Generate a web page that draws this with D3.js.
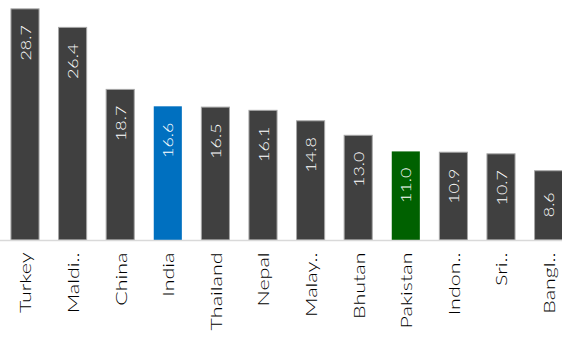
<!DOCTYPE html>
<html>
<head>
	<meta http-equiv="Content-Type" content="text/html; charset=utf-8">
	<title>Bars</title>
	<script src="https://d3js.org/d3.v7.min.js"></script>
	<style>
		body { margin: 0; background: #fff; }
		text { font-family: 'Century Gothic', 'Lato', 'Open Sans', sans-serif; font-weight: 300; }
		.val { fill: #fff; font-size: 14px; }
		.cat { fill: #000; font-size: 16.5px; }
	</style>
</head>
<body>
<script>
	// chart data
	var countries = ["Turkey", "Maldi..", "China", "India", "Thailand", "Nepal",
		"Malay..", "Bhutan", "Pakistan", "Indon..", "Sri..", "Bangl.."];
	var values = [28.7, 26.4, 18.7, 16.6, 16.5, 16.1, 14.8, 13.0, 11.0, 10.9, 10.7, 8.6];
	var highlight = { "India": "#0070c0", "Pakistan": "#006100" };

	var width = 562, height = 342, baseY = 240;
	// the original face is much wider than the fallback, so stretch along the text
	var catStretch = 1.3, valStretch = 1.28;

	var svg = d3.select("body").append("svg")
			.attr("width", width)
			.attr("height", height);

	var x = d3.scaleBand()
			.domain(countries)
			.range([1.2, 572.4])
			.paddingInner(0.41)
			.paddingOuter(0.205);

	var y = d3.scaleLinear()
			.domain([0, 29.8])
			.range([baseY, 0]);

	var rows = countries.map(function(c, i) { return { name: c, value: values[i] }; });

	// bars
	svg.append("g").selectAll("rect")
			.data(rows)
			.enter()
			.append("rect")
			.attr("x", function(d) { return x(d.name); })
			.attr("y", function(d) { return y(d.value); })
			.attr("width", x.bandwidth())
			.attr("height", function(d) { return baseY - y(d.value); })
			.style("fill", function(d) { return highlight[d.name] || "#404040"; })
			.style("stroke", function(d) { return highlight[d.name] ? "none" : "#a6a6a6"; })
			.style("stroke-width", 1);

	// axis line
	svg.append("line")
			.attr("x1", 0).attr("x2", width)
			.attr("y1", baseY + 0.5).attr("y2", baseY + 0.5)
			.style("stroke", "#d9d9d9")
			.style("stroke-width", 1.5);

	// value labels inside the bars
	svg.append("g").selectAll("text")
			.data(rows)
			.enter()
			.append("text")
			.attr("class", "val")
			.attr("text-anchor", "middle")
			.attr("dominant-baseline", "central")
			.attr("transform", function(d) {
				var cx = x(d.name) + x.bandwidth() / 2;
				return "translate(" + cx + "," + (y(d.value) + 34) + ") rotate(-90) scale(" + valStretch + ",1)";
			})
			.text(function(d) { return d.value.toFixed(1); });

	// category labels
	svg.append("g").selectAll("text")
			.data(rows)
			.enter()
			.append("text")
			.attr("class", "cat")
			.attr("text-anchor", "end")
			.attr("dominant-baseline", "central")
			.attr("transform", function(d) {
				var cx = x(d.name) + x.bandwidth() / 2;
				return "translate(" + cx + "," + (baseY + 12.5) + ") rotate(-90) scale(" + catStretch + ",1)";
			})
			.text(function(d) { return d.name; });
</script>
</body>
</html>
